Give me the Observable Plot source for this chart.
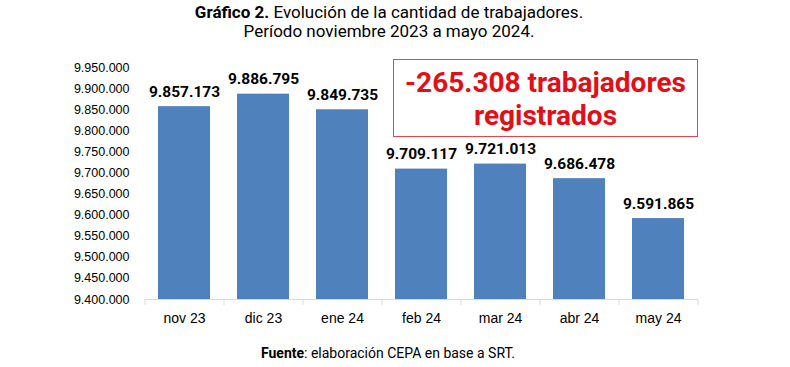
<!DOCTYPE html>
<html><head><meta charset="utf-8">
<script src="https://cdn.jsdelivr.net/npm/d3@7"></script>
<script src="https://cdn.jsdelivr.net/npm/@observablehq/plot@0.6"></script>
<style>
body{margin:0;background:#fff;}
#wrap{position:relative;width:790px;height:367px;overflow:hidden;font-family:Roboto,sans-serif;background:#fff;}
#title{position:absolute;left:0;top:3px;width:778px;text-align:center;font-size:17px;line-height:19px;color:#000;}
#chart{position:absolute;left:0;top:45px;}
#note{position:absolute;left:393px;top:59px;width:305px;height:78px;box-sizing:border-box;border:1px solid #de4850;color:#e30f17;font-weight:700;font-size:28px;line-height:33px;text-align:center;padding-top:6px;}
#caption{position:absolute;left:0;top:344px;width:776px;text-align:center;font-size:14px;line-height:18px;color:#000;}
</style></head>
<body>
<div id="wrap">
  <div id="title"><b>Gráfico 2.</b> Evolución de la cantidad de trabajadores.<br>Período noviembre 2023 a mayo 2024.</div>
  <div id="chart"></div>
  <div id="note">-265.308 trabajadores<br>registrados</div>
  <div id="caption"><b>Fuente</b>: elaboración CEPA en base a SRT.</div>
</div>
<script>
const meses = ["nov 23", "dic 23", "ene 24", "feb 24", "mar 24", "abr 24", "may 24"];
const trabajadores = [9857173, 9886795, 9849735, 9709117, 9721013, 9686478, 9591865];
const yTicks = [9400000, 9450000, 9500000, 9550000, 9600000, 9650000, 9700000, 9750000, 9800000, 9850000, 9900000, 9950000];

const data = meses.map((m, i) => ({mes: m, valor: trabajadores[i]}));
const loc = d3.formatLocale({decimal: ",", thousands: ".", grouping: [3], currency: ["$", ""]});
const fmt = loc.format(",");
const yMin = yTicks[0], yMax = yTicks[yTicks.length - 1];
const step = (790 - 145 - 92) / meses.length;

const chart = Plot.plot({
  width: 790,
  height: 290,
  marginLeft: 145,
  marginRight: 92,
  marginTop: 22,
  marginBottom: 36,
  style: {fontFamily: "'Liberation Sans', Arial, sans-serif", fontSize: "12.5px", color: "#000", background: "transparent"},
  x: {domain: meses, paddingInner: 0.34, paddingOuter: 0.17, label: null},
  y: {domain: [yMin, yMax], label: null},
  marks: [
    Plot.axisY({ticks: yTicks, tickFormat: fmt, tickSize: 0, tickPadding: 16, label: null, fontSize: 12.5, fill: "#000"}),
    Plot.axisX({tickSize: 0, tickPadding: 14, label: null, fontSize: 14, fill: "#000"}),
    Plot.barY(data, {x: "mes", y1: yMin, y2: "valor", fill: "#4f81bd"}),
    Plot.ruleY([yMin], {stroke: "#d9d9d9", strokeWidth: 1}),
    Plot.ruleX(meses, {x: d => d, y1: yMin, y2: yMin, insetBottom: -6, dx: -step / 2, stroke: "#d9d9d9"}),
    Plot.ruleX(meses.slice(-1), {x: d => d, y1: yMin, y2: yMin, insetBottom: -6, dx: step / 2, stroke: "#d9d9d9"}),
    Plot.text(data, {x: "mes", y: "valor", text: d => fmt(d.valor), dy: -15, lineAnchor: "middle", fontFamily: "Roboto, sans-serif", fontWeight: "bold", fontSize: 15.5, fill: "#000"})
  ]
});
document.getElementById("chart").appendChild(chart);
</script>
</body></html>
